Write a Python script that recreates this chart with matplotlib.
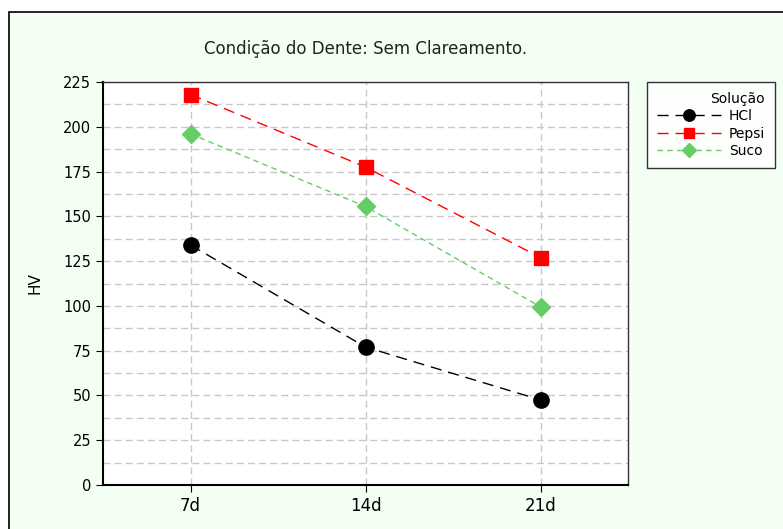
import matplotlib.pyplot as plt
import matplotlib.patches as patches
import numpy as np

days = ['7d', '14d', '21d']
hcl = [134, 77, 47.5]
pepsi = [218, 177.5, 127]
suco = [196, 155.5, 99.5]
y_ticks = [0, 25, 50, 75, 100, 125, 150, 175, 200, 225]

fig = plt.figure(figsize=(7.83, 5.29), dpi=100)
fig.patch.set_facecolor('white')

# light green frame around everything
bg = patches.Rectangle((9 / 783, -0.05), 1.2, 1 - 12 / 529 + 0.05,
                       transform=fig.transFigure, facecolor='#F3FFF3',
                       edgecolor='black', linewidth=1.2, zorder=-10)
fig.patches.append(bg)

ax = fig.add_axes([103 / 783, 1 - 485 / 529, (628 - 103) / 783, (485 - 82) / 529])
ax.set_facecolor('white')

x = np.arange(len(days))
ax.plot(x, hcl, color='black', linestyle=(0, (8, 5)), linewidth=1,
        marker='o', markersize=11, label='HCl')
ax.plot(x, pepsi, color='#FF0000', linestyle=(0, (8, 5)), linewidth=1,
        marker='s', markersize=9.5, label='Pepsi')
ax.plot(x, suco, color='#66CC66', linestyle=(0, (4, 3)), linewidth=1,
        marker='D', markersize=9, label='Suco')

ax.set_xlim(-0.5, 2.5)
ax.set_ylim(0, 225)
ax.set_xticks(x)
ax.set_xticklabels(days, fontsize=12)
ax.set_yticks(y_ticks)
ax.set_yticklabels([str(v) for v in y_ticks], fontsize=10.5)
ax.set_yticks(np.arange(12.5, 225, 25), minor=True)
ax.tick_params(axis='y', which='minor', length=0)
ax.tick_params(axis='both', which='major', direction='out', length=5, color='black')

ax.grid(True, which='both', axis='y', color='#C8C8C8', linestyle=(0, (5, 3)), linewidth=1)
ax.grid(True, which='major', axis='x', color='#C8C8C8', linestyle=(0, (5, 3)), linewidth=1)
ax.set_axisbelow(True)

for side in ['left', 'bottom']:
    ax.spines[side].set_linewidth(1.5)
for side in ['top', 'right']:
    ax.spines[side].set_linewidth(1)
    ax.spines[side].set_color('#333333')

ax.set_ylabel('HV', fontsize=11)
ax.yaxis.set_label_coords(-0.115, 0.5)

fig.text(0.5 * (103 + 628) / 783, 1 - 49 / 529, 'Condição do Dente: Sem Clareamento.',
         ha='center', va='center', fontsize=12, color='#222222')

leg = fig.legend(loc='upper left', bbox_to_anchor=(647 / 783, 1 - 82 / 529),
                 title='Solução', fontsize=10, title_fontsize=10, frameon=True,
                 fancybox=False, edgecolor='black', handlelength=4.6,
                 borderaxespad=0, borderpad=0.7, labelspacing=0.25,
                 markerscale=0.75, handletextpad=0.6)
leg.get_frame().set_linewidth(1)
leg.get_frame().set_facecolor('white')
leg._legend_box.align = 'right'

fig.savefig('out.png', dpi=100)
